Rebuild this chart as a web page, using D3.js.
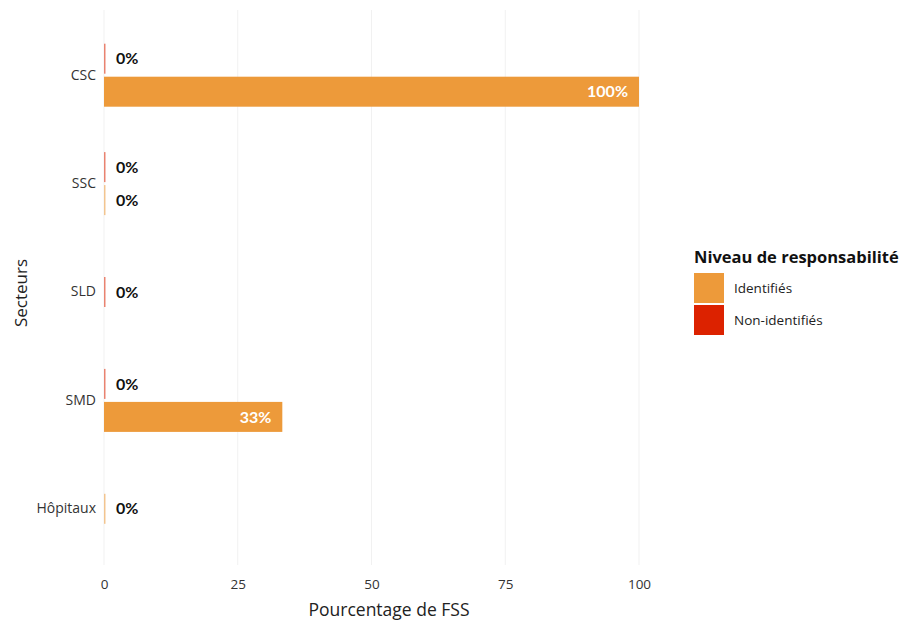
<!DOCTYPE html>
<html><head><meta charset="utf-8">
<script src="https://cdn.jsdelivr.net/npm/d3@7"></script>
<style>body{margin:0;background:#fff;font-family:"Open Sans",sans-serif;}</style>
</head><body><svg id="c" width="913" height="622"></svg>
<script>
const categories = ["CSC","SSC","SLD","SMD","Hôpitaux"];
const identifies = [100, 0, null, 33.33, 0];
const nonIdentifies = [0, 0, 0, 0, null];
const seriesNames = ["Identifiés","Non-identifiés"];
const seriesColors = ["#ED9A3A","#DC2200"];
const xTicks = [0,25,50,75,100];

const svg = d3.select("#c");
const x = d3.scaleLinear().domain([0,100]).range([104,639]);
const y = d3.scaleBand().domain(categories).range([21,563]).paddingInner(0.42).paddingOuter(0.21);
const gridG = svg.append("g");
gridG.selectAll("line").data(xTicks).join("line")
  .attr("x1",d=>x(d)).attr("x2",d=>x(d)).attr("y1",10).attr("y2",565)
  .attr("stroke","#F1F1F1").attr("stroke-width",1);

const slot = 30, gap = 3;
const rows = [];
categories.forEach((c,i)=>{
  const vals = [{s:1,v:nonIdentifies[i]},{s:0,v:identifies[i]}].filter(d=>d.v!==null);
  const center = y(c)+y.bandwidth()/2;
  const n = vals.length;
  vals.forEach((d,j)=>{
    const top = center - (n*slot + (n-1)*gap)/2 + j*(slot+gap);
    rows.push({c, s:d.s, v:d.v, top});
  });
});
const bars = svg.append("g");
rows.forEach(r=>{
  const w = Math.max(x(r.v)-x(0), 1.5);
  bars.append("rect").attr("x",x(0)).attr("y",r.top).attr("width",w).attr("height",slot)
    .attr("fill",seriesColors[r.s]).attr("opacity", r.v===0?0.55:1);
  const lbl = Math.round(r.v)+"%";
  if (r.v===0) {
    bars.append("text").attr("x",x(0)+12).attr("y",r.top+slot/2).attr("dy","0.35em")
      .attr("font-family","Lato,sans-serif")
      .attr("font-size",16).attr("font-weight","bold").attr("fill","#111").text(lbl);
  } else {
    bars.append("text").attr("x",x(r.v)-11).attr("y",r.top+slot/2).attr("dy","0.35em")
      .attr("font-family","Lato,sans-serif")
      .attr("text-anchor","end").attr("font-size",16).attr("font-weight","bold").attr("fill","#fff").text(lbl);
  }
});

const yAx = svg.append("g").attr("transform","translate(104,0)")
  .call(d3.axisLeft(y).tickSize(0).tickPadding(8));
yAx.select(".domain").remove();
yAx.selectAll("text").attr("font-size",14).attr("fill","#333").attr("font-family","Open Sans,sans-serif");

const xAx = svg.append("g").attr("transform","translate(0,571)")
  .call(d3.axisBottom(x).tickValues(xTicks).tickSize(0).tickPadding(8));
xAx.select(".domain").remove();
xAx.selectAll("text").attr("font-size",13.5).attr("fill","#333").attr("font-family","Open Sans,sans-serif");

svg.append("text").attr("x",389).attr("y",616).attr("text-anchor","middle")
  .attr("font-size",17.5).attr("fill","#222").text("Pourcentage de FSS");
svg.append("text").attr("transform","translate(27,293) rotate(-90)").attr("text-anchor","middle")
  .attr("font-size",17).attr("fill","#222").text("Secteurs");

const lg = svg.append("g").attr("transform","translate(694,0)");
lg.append("text").attr("x",0).attr("y",263).attr("font-size",16.5).attr("font-weight","bold")
  .attr("fill","#111").text("Niveau de responsabilité");
seriesNames.forEach((s,i)=>{
  lg.append("rect").attr("x",0).attr("y",273+i*32).attr("width",30).attr("height",30).attr("fill",seriesColors[i]);
  lg.append("text").attr("x",40).attr("y",288+i*32).attr("dy","0.35em").attr("font-size",13.5)
    .attr("fill","#222").text(s);
});
</script></body></html>
